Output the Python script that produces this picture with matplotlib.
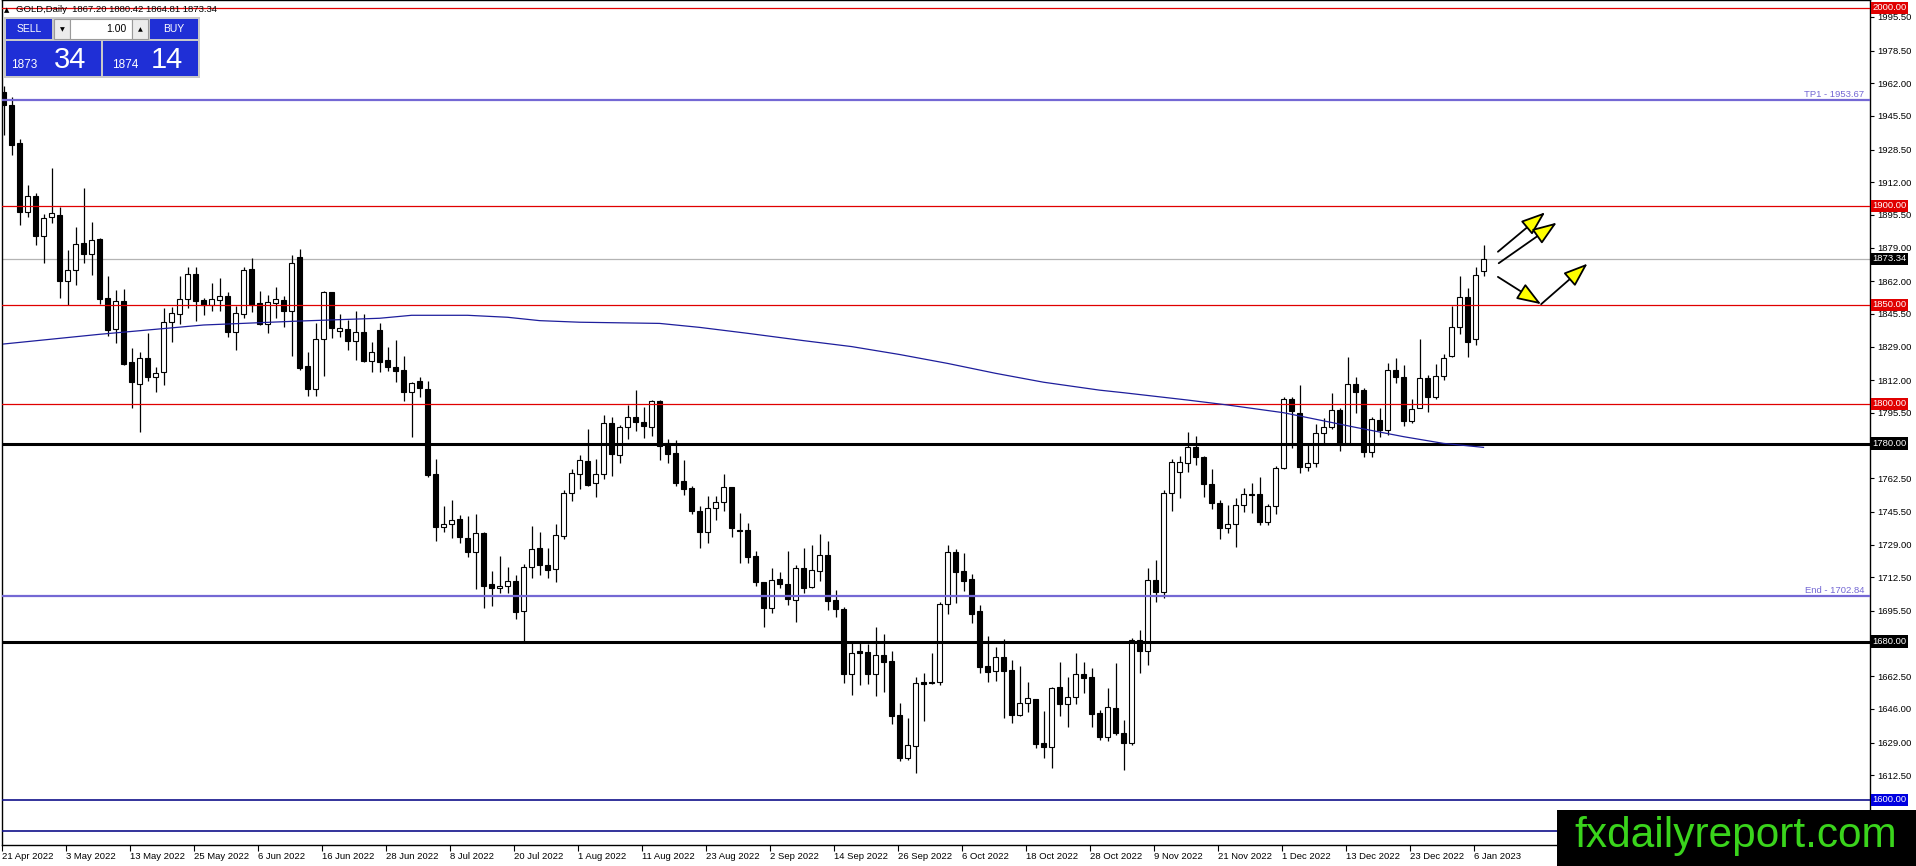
import matplotlib
matplotlib.use("Agg")
import matplotlib.pyplot as plt
import numpy as np
from matplotlib.patches import Rectangle

plt.rcParams["font.family"] = ["Liberation Sans", "DejaVu Sans"]

# daily candles, 21 Apr 2022 .. 9 Jan 2023
opens = [1957.5, 1951.0, 1931.6, 1897.1, 1905.0, 1885.0, 1894.3, 1895.4, 1862.1, 1867.5,
         1881.3, 1875.9, 1883.3, 1853.7, 1837.7, 1852.0, 1821.4, 1809.9, 1823.0, 1813.8,
         1816.0, 1841.2, 1845.3, 1852.8, 1865.5, 1852.3, 1850.0, 1852.3, 1854.7, 1836.5,
         1845.6, 1868.2, 1850.8, 1840.5, 1851.2, 1852.5, 1847.0, 1874.2, 1819.2, 1807.4,
         1832.8, 1856.4, 1837.0, 1837.7, 1832.0, 1836.5, 1821.7, 1837.4, 1822.2, 1818.9,
         1817.2, 1806.2, 1811.6, 1807.6, 1764.7, 1738.0, 1739.2, 1741.8, 1732.2, 1725.1,
         1734.7, 1709.0, 1706.9, 1708.1, 1710.6, 1695.6, 1717.5, 1727.4, 1718.7, 1716.5,
         1733.5, 1754.9, 1764.6, 1771.2, 1760.0, 1764.5, 1790.2, 1774.2, 1788.2, 1793.3,
         1791.1, 1788.6, 1801.5, 1780.1, 1775.1, 1760.9, 1757.6, 1746.0, 1735.5, 1747.3,
         1750.3, 1757.9, 1736.4, 1736.4, 1723.2, 1709.9, 1696.8, 1711.4, 1709.1, 1701.0,
         1717.0, 1707.7, 1715.8, 1723.7, 1701.0, 1696.5, 1663.6, 1675.3, 1674.6, 1663.6,
         1673.2, 1670.2, 1642.9, 1621.0, 1627.4, 1659.4, 1659.8, 1659.8, 1698.8, 1725.1,
         1715.6, 1711.6, 1695.5, 1667.7, 1665.3, 1672.0, 1665.6, 1642.9, 1648.8, 1650.8,
         1628.9, 1626.9, 1657.2, 1648.5, 1651.8, 1663.6, 1662.3, 1643.8, 1632.0, 1646.6,
         1634.0, 1629.0, 1681.0, 1675.0, 1711.0, 1705.0, 1754.9, 1765.5, 1770.0, 1778.1,
         1773.1, 1759.4, 1749.8, 1737.2, 1739.2, 1749.0, 1754.6, 1754.6, 1740.6, 1748.5,
         1767.5, 1802.3, 1795.6, 1768.0, 1770.0, 1785.5, 1788.2, 1797.0, 1780.1, 1810.1,
         1807.1, 1775.9, 1791.9, 1786.9, 1817.2, 1813.5, 1791.6, 1797.8, 1813.0, 1803.4,
         1814.1, 1824.2, 1838.7, 1853.9, 1832.7, 1867.20]
highs = [1960.5, 1954.9, 1933.8, 1910.6, 1906.4, 1895.8, 1919.3, 1899.7, 1877.8, 1889.2,
         1908.9, 1891.9, 1884.0, 1864.6, 1857.5, 1858.1, 1828.1, 1826.4, 1835.7, 1818.8,
         1848.3, 1849.1, 1864.6, 1869.3, 1869.3, 1853.7, 1860.9, 1863.8, 1856.7, 1849.5,
         1869.3, 1873.6, 1857.1, 1855.0, 1859.2, 1854.5, 1875.2, 1878.3, 1826.4, 1840.7,
         1857.1, 1856.7, 1845.3, 1842.4, 1846.9, 1845.3, 1831.1, 1840.7, 1828.9, 1832.3,
         1824.3, 1811.3, 1813.5, 1811.8, 1772.1, 1748.5, 1751.5, 1743.8, 1743.4, 1744.4,
         1735.5, 1715.7, 1723.2, 1717.8, 1713.6, 1719.2, 1738.4, 1735.3, 1727.1, 1739.4,
         1756.6, 1767.0, 1774.2, 1787.2, 1772.1, 1794.3, 1793.6, 1789.4, 1799.5, 1807.1,
         1798.7, 1802.0, 1802.0, 1782.3, 1781.8, 1771.7, 1758.6, 1748.5, 1753.5, 1753.5,
         1764.6, 1758.2, 1744.8, 1739.7, 1725.8, 1710.3, 1717.0, 1715.0, 1725.8, 1718.7,
         1727.4, 1728.8, 1734.3, 1730.8, 1706.1, 1697.3, 1680.0, 1680.0, 1678.8, 1687.5,
         1683.8, 1675.3, 1648.8, 1641.6, 1661.9, 1664.0, 1674.4, 1700.2, 1728.8, 1726.8,
         1724.6, 1714.0, 1698.5, 1682.8, 1677.1, 1681.1, 1670.7, 1667.7, 1659.8, 1650.8,
         1644.9, 1657.2, 1669.5, 1661.9, 1674.1, 1669.9, 1666.5, 1645.4, 1656.4, 1669.0,
         1640.4, 1682.0, 1686.0, 1717.0, 1721.2, 1756.6, 1772.1, 1773.9, 1785.7, 1784.0,
         1773.5, 1767.0, 1751.5, 1749.0, 1752.4, 1757.7, 1760.3, 1763.0, 1749.3, 1768.7,
         1803.7, 1803.4, 1809.6, 1779.3, 1789.9, 1793.1, 1805.7, 1797.8, 1823.9, 1813.5,
         1807.9, 1793.3, 1797.8, 1820.9, 1823.1, 1819.7, 1802.3, 1832.8, 1814.7, 1820.2,
         1825.3, 1849.5, 1864.6, 1858.4, 1869.0, 1880.42]
lows = [1936.0, 1925.7, 1890.4, 1894.6, 1880.3, 1871.4, 1891.6, 1853.7, 1850.0, 1860.1,
        1871.4, 1865.1, 1850.7, 1834.5, 1831.0, 1819.5, 1798.1, 1786.0, 1811.6, 1806.2,
        1809.6, 1831.5, 1840.2, 1848.6, 1841.9, 1844.9, 1846.9, 1846.9, 1833.7, 1827.3,
        1843.3, 1846.6, 1839.9, 1835.7, 1843.6, 1839.1, 1824.4, 1817.2, 1804.2, 1804.2,
        1814.3, 1833.2, 1833.7, 1827.3, 1822.2, 1821.4, 1816.0, 1816.3, 1816.8, 1811.3,
        1801.7, 1783.5, 1803.4, 1763.0, 1731.0, 1735.5, 1732.2, 1730.0, 1722.6, 1706.4,
        1696.8, 1698.0, 1704.7, 1704.4, 1691.2, 1680.0, 1712.0, 1713.6, 1712.0, 1710.3,
        1731.7, 1751.2, 1756.9, 1758.6, 1753.2, 1762.3, 1763.8, 1770.0, 1782.2, 1786.5,
        1782.7, 1784.0, 1771.7, 1770.4, 1758.8, 1754.1, 1744.4, 1727.1, 1730.0, 1741.4,
        1746.1, 1733.0, 1719.5, 1719.7, 1708.3, 1687.5, 1694.3, 1706.9, 1698.5, 1690.1,
        1704.4, 1706.9, 1710.8, 1695.9, 1692.6, 1658.9, 1653.0, 1658.1, 1658.6, 1652.5,
        1654.7, 1638.4, 1619.9, 1620.2, 1613.8, 1640.1, 1658.6, 1658.1, 1693.9, 1699.3,
        1705.7, 1689.6, 1664.3, 1659.8, 1660.1, 1641.2, 1639.1, 1642.4, 1644.6, 1626.4,
        1621.4, 1616.0, 1642.6, 1637.0, 1648.5, 1653.9, 1637.0, 1630.3, 1629.8, 1632.8,
        1615.1, 1628.0, 1664.0, 1668.0, 1700.0, 1702.0, 1746.1, 1752.4, 1765.8, 1769.2,
        1753.2, 1746.8, 1731.6, 1734.7, 1727.6, 1745.6, 1745.1, 1738.9, 1738.9, 1744.4,
        1767.0, 1777.6, 1765.0, 1766.3, 1768.0, 1780.5, 1787.2, 1776.4, 1780.1, 1795.3,
        1773.1, 1773.4, 1783.2, 1784.3, 1810.8, 1788.9, 1790.2, 1797.8, 1796.1, 1802.4,
        1812.1, 1823.6, 1835.4, 1823.9, 1829.8, 1864.81]
closes = [1951.0, 1930.8, 1897.1, 1905.0, 1885.0, 1893.8, 1896.5, 1862.1, 1867.5, 1880.6,
          1875.9, 1882.8, 1853.2, 1837.4, 1852.0, 1820.4, 1811.3, 1823.0, 1813.8, 1815.6,
          1841.2, 1845.8, 1852.8, 1865.5, 1852.0, 1850.0, 1852.8, 1854.5, 1836.5, 1845.8,
          1867.5, 1850.0, 1840.2, 1851.3, 1852.8, 1847.0, 1871.0, 1818.0, 1807.4, 1832.8,
          1856.4, 1838.5, 1838.2, 1831.8, 1836.5, 1821.7, 1826.4, 1821.4, 1818.5, 1816.8,
          1806.2, 1810.4, 1807.9, 1764.1, 1738.0, 1739.2, 1741.4, 1733.0, 1725.1, 1734.7,
          1708.3, 1706.9, 1708.1, 1710.6, 1695.1, 1717.5, 1726.6, 1718.7, 1716.2, 1733.8,
          1755.2, 1765.3, 1771.7, 1759.1, 1764.6, 1790.2, 1774.6, 1788.6, 1793.3, 1791.1,
          1788.9, 1801.5, 1779.0, 1774.6, 1760.3, 1757.2, 1746.0, 1735.5, 1747.3, 1750.3,
          1757.9, 1737.2, 1736.0, 1722.9, 1710.3, 1696.8, 1711.1, 1708.9, 1701.3, 1717.0,
          1707.2, 1716.2, 1723.7, 1700.7, 1696.3, 1663.6, 1674.1, 1674.4, 1663.6, 1673.2,
          1669.9, 1642.6, 1621.0, 1627.8, 1658.9, 1658.6, 1658.9, 1698.8, 1725.1, 1715.3,
          1710.8, 1693.8, 1667.3, 1664.8, 1672.0, 1665.3, 1642.9, 1648.8, 1651.3, 1628.1,
          1626.9, 1656.7, 1648.5, 1651.8, 1663.6, 1661.8, 1643.4, 1632.0, 1647.1, 1633.7,
          1628.6, 1681.0, 1675.0, 1711.0, 1705.0, 1754.9, 1770.5, 1770.5, 1778.1, 1773.1,
          1759.4, 1749.8, 1737.2, 1739.2, 1749.0, 1754.4, 1753.9, 1740.6, 1748.5, 1767.5,
          1802.3, 1796.6, 1768.0, 1770.0, 1785.2, 1788.2, 1797.0, 1780.1, 1810.1, 1806.2,
          1775.9, 1792.3, 1786.9, 1817.2, 1813.5, 1791.6, 1797.3, 1813.0, 1803.4, 1814.1,
          1823.1, 1838.7, 1853.9, 1831.5, 1865.2, 1873.34]

# moving average, read at a handful of bars
ma_idx = [0, 12, 25, 37, 47, 51, 58, 63, 67, 72, 82, 87, 93, 100, 106, 112, 118, 124,
          130, 137, 140, 148, 153, 160, 169, 175, 180, 185]
ma_val = [1830.3, 1835.2, 1839.9, 1841.9, 1843.3, 1844.8, 1844.8, 1843.8, 1842.1, 1841.3,
          1840.7, 1838.7, 1835.7, 1832.0, 1829.0, 1825.0, 1820.5, 1815.5, 1811.0, 1807.0,
          1805.7, 1802.0, 1799.5, 1795.6, 1788.2, 1783.5, 1780.1, 1778.1]

date_labels = ["21 Apr 2022", "3 May 2022", "13 May 2022", "25 May 2022", "6 Jun 2022",
               "16 Jun 2022", "28 Jun 2022", "8 Jul 2022", "20 Jul 2022", "1 Aug 2022",
               "11 Aug 2022", "23 Aug 2022", "2 Sep 2022", "14 Sep 2022", "26 Sep 2022",
               "6 Oct 2022", "18 Oct 2022", "28 Oct 2022", "9 Nov 2022", "21 Nov 2022",
               "1 Dec 2022", "13 Dec 2022", "23 Dec 2022", "6 Jan 2023"]
price_ticks = [1995.5, 1978.5, 1962.0, 1945.5, 1928.5, 1912.0, 1895.5, 1879.0, 1862.0,
               1845.5, 1829.0, 1812.0, 1795.5, 1762.5, 1745.5, 1729.0, 1712.5, 1695.5,
               1662.5, 1646.0, 1629.0, 1612.5]

red_levels = [2000.0, 1900.0, 1850.0, 1800.0]
black_levels = [1780.0, 1680.0]
blue_levels = [1600.0, 1584.5]
tp1 = 1953.67
end_level = 1702.84
last_price = 1873.34
bid, ask = 1873.34, 1874.14

RED = "#e00000"
LAV = "#7468d4"
NAVY = "#10108a"
PANEL_BLUE = "#1f2fd6"
FS = 6.8


def main():
    fig = plt.figure(figsize=(19.16, 8.66), dpi=100)
    ax = fig.add_axes([2 / 1916, 21 / 866, 1868 / 1916, 845 / 866])
    ax.set_xlim(-0.1875, 233.3125)
    ax.set_ylim(1577.27, 2004.04)

    o = np.array(opens)
    h = np.array(highs)
    l = np.array(lows)
    c = np.array(closes)
    idx = np.arange(len(o))
    up = c >= o

    # candles
    ax.vlines(idx, l, h, color="black", lw=0.9, zorder=3)
    body = np.maximum(np.abs(c - o), 0.45)
    ax.bar(idx, body, bottom=np.minimum(o, c), width=0.62,
           color=np.where(up, "white", "black"), edgecolor="black", lw=0.8, zorder=4)

    # levels
    for lv in red_levels:
        ax.axhline(lv, color=RED, lw=0.9, zorder=5)
    for lv in black_levels:
        ax.axhline(lv, color="black", lw=2.2, zorder=5)
    for lv in blue_levels:
        ax.axhline(lv, color=NAVY, lw=1.2, zorder=5)
    ax.axhline(tp1, color=LAV, lw=1.6, zorder=5)
    ax.axhline(end_level, color=LAV, lw=1.6, zorder=5)
    ax.axhline(last_price, color="#b4b4b4", lw=0.9, zorder=2)
    ax.plot(ma_idx, ma_val, color="#1e1e9c", lw=0.9, zorder=6)

    yt = ax.get_yaxis_transform()
    ax.text(0.997, tp1 + 0.6, "TP1 - %.2f" % tp1, transform=yt, ha="right", va="bottom",
            color=LAV, fontsize=FS, zorder=6)
    ax.text(0.997, end_level + 0.6, "End - %.2f" % end_level, transform=yt, ha="right",
            va="bottom", color=LAV, fontsize=FS, zorder=6)

    # arrows
    arrows = [((186.8, 1876.9), (192.7, 1896.8)),
              ((186.9, 1871.1), (194.15, 1891.6)),
              ((186.8, 1864.2), (192.2, 1850.4)),
              ((192.2, 1850.4), (198.0, 1870.9))]
    for start, end in arrows:
        ax.annotate("", xy=end, xytext=start, zorder=7,
                    arrowprops=dict(arrowstyle="-|>,head_length=1.5,head_width=0.55",
                                    mutation_scale=10, fc="#ffff00", ec="black", lw=1.3,
                                    shrinkA=0, shrinkB=0))

    # axes look
    for s in ax.spines.values():
        s.set_color("black")
        s.set_linewidth(1.0)
    ax.yaxis.tick_right()
    ax.set_yticks(price_ticks)
    ax.set_yticklabels(["%.2f" % t for t in price_ticks])
    ax.tick_params(axis="y", length=3, pad=2, labelsize=FS, colors="black")
    ax.set_xticks(np.arange(len(date_labels)) * 8 - 0.2)
    ax.set_xticklabels(date_labels)
    for lab in ax.get_xticklabels():
        lab.set_ha("left")
    ax.tick_params(axis="x", length=4, pad=1, labelsize=FS)

    # price tags on the scale
    tags = [(lv, RED) for lv in red_levels] + [(lv, "black") for lv in black_levels]
    tags += [(last_price, "black"), (blue_levels[0], "#0000e0")]
    for lv, col in tags:
        ax.text(1.0012, lv, "%.2f" % lv, transform=yt, ha="left", va="center",
                color="white", fontsize=FS, clip_on=False, zorder=8,
                bbox=dict(boxstyle="square,pad=0.18", fc=col, ec="none"))

    # overlay in pixel coordinates
    ov = fig.add_axes([0, 0, 1, 1])
    ov.set_xlim(0, 1916)
    ov.set_ylim(866, 0)
    ov.axis("off")
    ov.patch.set_alpha(0)

    ov.text(4, 10, "\u25b2", fontsize=5, va="center", ha="left", family="DejaVu Sans")
    ov.text(16, 10, "GOLD,Daily  %.2f %.2f %.2f %.2f" % (opens[-1], highs[-1], lows[-1], closes[-1]),
            fontsize=FS, va="center", ha="left")

    def box(x0, y0, x1, y1, fc, ec="none"):
        ov.add_patch(Rectangle((x0, y0), x1 - x0, y1 - y0, fc=fc, ec=ec, lw=0.8))

    box(4, 17, 200, 78, "#c8c8c8")
    box(6, 19, 52, 39, PANEL_BLUE)
    box(54, 19, 70, 39, "#ececec", "#9a9a9a")
    box(70, 19, 132, 39, "white", "#9a9a9a")
    box(132, 19, 148, 39, "#ececec", "#9a9a9a")
    box(150, 19, 198, 39, PANEL_BLUE)
    box(6, 41, 101, 76, PANEL_BLUE)
    box(103, 41, 198, 76, PANEL_BLUE)
    ov.text(29, 29.5, "SELL", color="white", fontsize=7.5, ha="center", va="center")
    ov.text(174, 29.5, "BUY", color="white", fontsize=7.5, ha="center", va="center")
    ov.text(62, 29.5, "\u25bc", fontsize=4.5, ha="center", va="center", family="DejaVu Sans")
    ov.text(140, 29.5, "\u25b2", fontsize=4.5, ha="center", va="center", family="DejaVu Sans")
    ov.text(126, 29.5, "1.00", fontsize=7.5, ha="right", va="center")
    bid_s = "%.2f" % bid
    ask_s = "%.2f" % ask
    ov.text(11, 65, bid_s[:4], color="white", fontsize=8.5, ha="left", va="center")
    ov.text(54, 60, bid_s[5:], color="white", fontsize=21, ha="left", va="center")
    ov.text(112, 65, ask_s[:4], color="white", fontsize=8.5, ha="left", va="center")
    ov.text(151, 60, ask_s[5:], color="white", fontsize=21, ha="left", va="center")

    # watermark banner
    box(1557, 810, 1916, 866, "black")
    ov.text(1736, 836, "fxdailyreport.com", color="#3ad41c", fontsize=30.5,
            ha="center", va="center")

    fig.savefig("out.png", dpi=100)


if __name__ == "__main__":
    main()
